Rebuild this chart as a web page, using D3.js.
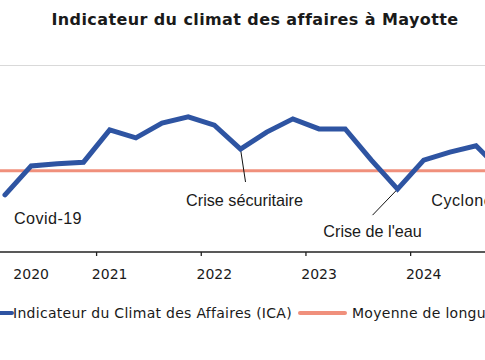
<!DOCTYPE html>
<html><head><meta charset="utf-8">
<script src="https://cdn.jsdelivr.net/npm/d3@7"></script>
<style>body{margin:0;background:#fff;overflow:hidden}svg{display:block}</style>
</head><body><svg id="c" width="485" height="360"></svg>
<script>
const quarters = ["2020T1","2020T2","2020T3","2020T4","2021T1","2021T2","2021T3","2021T4","2022T1","2022T2","2022T3","2022T4","2023T1","2023T2","2023T3","2023T4","2024T1","2024T2","2024T3","2024T4"];
const icaValues = [95.4,100.9,101.3,101.6,107.7,106.2,109.0,110.2,108.6,104.1,107.3,109.8,107.9,107.9,102.0,96.5,102.0,103.5,104.7,99.8];
const longTermAverage = 100;
const yearLabels = ["2020","2021","2022","2023","2024"];
const yearLabelAt = ["2020T2","2021T1","2022T1","2023T1","2024T1"];
const yearBoundaries = ["2020T4","2021T4","2022T4","2023T4"];
const events = [
  {label:"Covid-19", at:"2020T1"},
  {label:"Crise sécuritaire", at:"2022T2"},
  {label:"Crise de l'eau", at:"2023T4"},
  {label:"Cyclone Chido", at:"2024T4"}
];
const legendLabels = ["Indicateur du Climat des Affaires (ICA)","Moyenne de longue période"];
const title = "Indicateur du climat des affaires à Mayotte";

const svg = d3.select("#c");
const idx = d3.scaleOrdinal().domain(quarters).range(quarters.map((q,i)=>i));
const x = d3.scaleLinear().domain([0, quarters.length-1]).range([5, 5+26.17*(quarters.length-1)]);
const y = d3.scaleLinear().domain([84.6, 120]).range([252, 65]);
const xq = q => x(idx(q));
const blue = "#2E54A2", salmon = "#F0907C";

svg.append("text").attr("x",255).attr("y",25).attr("text-anchor","middle")
  .attr("font-family","DejaVu Sans").attr("font-weight","bold").attr("font-size",16).attr("letter-spacing",0.4)
  .attr("fill","#1a1a1a").text(title);

// top gridline
svg.append("line").attr("x1",0).attr("x2",485).attr("y1",y(120)+0.5).attr("y2",y(120)+0.5)
  .attr("stroke","#d9d9d9").attr("stroke-width",1.2);

// axis
const axisG = svg.append("g").attr("transform",`translate(0,${y(84.6)})`);
axisG.append("line").attr("x1",0).attr("x2",485).attr("stroke","#222").attr("stroke-width",1.3);
axisG.selectAll("line.tick").data(yearBoundaries).join("line").attr("class","tick")
  .attr("x1",d=>xq(d)+13.08).attr("x2",d=>xq(d)+13.08).attr("y1",0).attr("y2",4)
  .attr("stroke","#222").attr("stroke-width",1.3);
axisG.selectAll("text").data(yearLabels).join("text")
  .attr("x",(d,i)=>xq(yearLabelAt[i])).attr("y",27).attr("text-anchor","middle")
  .attr("font-family","DejaVu Sans").attr("font-size",14).attr("fill","#1a1a1a").text(d=>d);

// average line
svg.append("line").attr("x1",0).attr("x2",485).attr("y1",y(longTermAverage)).attr("y2",y(longTermAverage))
  .attr("stroke",salmon).attr("stroke-width",3);

// leader lines
const leaders = [
  {at:"2022T2", dx:5, dy:33},
  {at:"2023T4", dx:-25, dy:26}
];
svg.selectAll("line.leader").data(leaders).join("line").attr("class","leader")
  .attr("x1",d=>xq(d.at)).attr("y1",d=>y(icaValues[idx(d.at)]))
  .attr("x2",d=>xq(d.at)+d.dx).attr("y2",d=>y(icaValues[idx(d.at)])+d.dy)
  .attr("stroke","#111").attr("stroke-width",1);

// ICA line
svg.append("path").datum(icaValues)
  .attr("d", d3.line().x((d,i)=>x(i)).y(d=>y(d)))
  .attr("fill","none").attr("stroke",blue).attr("stroke-width",5).attr("stroke-linejoin","miter").attr("stroke-linecap","round");

// annotations
const annoPos = [
  {dx:9, y:224, anchor:"start", ls:0.4},
  {dx:4, y:206, anchor:"middle", ls:0},
  {dx:-25, y:237, anchor:"middle", ls:0},
  {dx:-71, y:206, anchor:"start", ls:0.5}
];
svg.selectAll("text.anno").data(events).join("text").attr("class","anno")
  .attr("x",(d,i)=>xq(d.at)+annoPos[i].dx).attr("y",(d,i)=>annoPos[i].y)
  .attr("text-anchor",(d,i)=>annoPos[i].anchor).attr("letter-spacing",(d,i)=>annoPos[i].ls)
  .attr("font-family","Liberation Sans, Arial").attr("font-size",16.2).attr("fill","#1a1a1a").text(d=>d.label);

// legend
const lg = svg.append("g");
lg.append("line").attr("x1",-34).attr("x2",12).attr("y1",313).attr("y2",313).attr("stroke",blue).attr("stroke-width",4).attr("stroke-linecap","round");
lg.append("text").attr("x",13).attr("y",318).attr("font-family","DejaVu Sans").attr("font-size",14).attr("letter-spacing",0.28).attr("fill","#1a1a1a").text(legendLabels[0]);
lg.append("line").attr("x1",300).attr("x2",345).attr("y1",313).attr("y2",313).attr("stroke",salmon).attr("stroke-width",4).attr("stroke-linecap","round");
lg.append("text").attr("x",352).attr("y",318).attr("font-family","DejaVu Sans").attr("font-size",14).attr("letter-spacing",0.28).attr("fill","#1a1a1a").text(legendLabels[1]);
</script></body></html>
